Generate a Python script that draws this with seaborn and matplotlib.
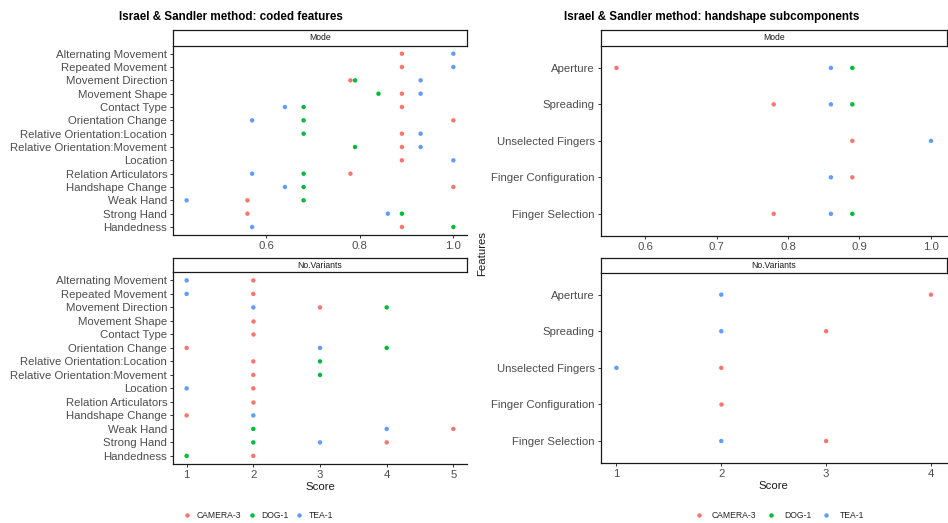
import numpy as np
import pandas as pd
import matplotlib
matplotlib.use("Agg")
import matplotlib.pyplot as plt
from matplotlib.lines import Line2D
from matplotlib.ticker import MultipleLocator, FormatStrFormatter
import seaborn as sns

# ---------------------------------------------------------------- data
signs = ["CAMERA-3", "DOG-1", "TEA-1"]
sign_colors = ["#F8766D", "#00BA38", "#619CFF"]

coded_features = [
    "Alternating Movement", "Repeated Movement", "Movement Direction",
    "Movement Shape", "Contact Type", "Orientation Change",
    "Relative Orientation:Location", "Relative Orientation:Movement",
    "Location", "Relation Articulators", "Handshape Change",
    "Weak Hand", "Strong Hand", "Handedness",
]
nan = np.nan
coded_mode_camera = [0.89, 0.89, 0.78, 0.89, 0.89, 1.00, 0.89, 0.89, 0.89, 0.78, 1.00, 0.56, 0.56, 0.89]
coded_mode_dog = [nan, nan, 0.79, 0.84, 0.68, 0.68, 0.68, 0.79, nan, 0.68, 0.68, 0.68, 0.89, 1.00]
coded_mode_tea = [1.00, 1.00, 0.93, 0.93, 0.64, 0.57, 0.93, 0.93, 1.00, 0.57, 0.64, 0.43, 0.86, 0.57]

coded_var_camera = [2, 2, 3, 2, 2, 1, 2, 2, 2, 2, 1, 5, 4, 2]
coded_var_dog = [nan, nan, 4, nan, nan, 4, 3, 3, nan, nan, nan, 2, 2, 1]
coded_var_tea = [1, 1, 2, nan, nan, 3, nan, nan, 1, nan, 2, 4, 3, nan]

hs_features = ["Aperture", "Spreading", "Unselected Fingers",
               "Finger Configuration", "Finger Selection"]
hs_mode_camera = [0.56, 0.78, 0.89, 0.89, 0.78]
hs_mode_dog = [0.89, 0.89, nan, nan, 0.89]
hs_mode_tea = [0.86, 0.86, 1.00, 0.86, 0.86]

hs_var_camera = [4, 3, 2, 2, 3]
hs_var_dog = [nan, nan, nan, nan, nan]
hs_var_tea = [2, 2, 1, nan, 2]

# ---------------------------------------------------------------- style
sns.set_theme(style="white")
plt.rcParams["font.family"] = ["Liberation Sans", "DejaVu Sans"]

W, H = 948, 523
fig = plt.figure(figsize=(W / 100, H / 100), dpi=100)
fig.patch.set_facecolor("white")
palette = dict(zip(signs, sign_colors))
TICK_TXT = "#4D4D4D"
LINE = "#1A1A1A"


def rect(x0, y0, x1, y1):
    return [x0 / W, 1 - y1 / H, (x1 - x0) / W, (y1 - y0) / H]


def long_frame(features, series):
    parts = []
    for sign, vals in zip(signs, series):
        parts.append(pd.DataFrame({"Features": features, "Score": vals, "Sign": sign}))
    return pd.concat(parts, ignore_index=True).dropna()


def strip(box, label):
    sax = fig.add_axes(rect(*box), zorder=5)
    sax.set_xticks([])
    sax.set_yticks([])
    sax.set_facecolor("white")
    for sp in sax.spines.values():
        sp.set_visible(True)
        sp.set_color(LINE)
        sp.set_linewidth(0.9)
    sax.text(0.5, 0.5, label, ha="center", va="center", fontsize=6.2,
             color="#1A1A1A", transform=sax.transAxes)


def panel(box, features, series, step, fmt, xlabel):
    ax = fig.add_axes(rect(*box), zorder=1)
    df = long_frame(features, series)
    sns.stripplot(data=df, x="Score", y="Features", hue="Sign", order=features,
                  hue_order=signs, palette=palette, jitter=False, dodge=False,
                  size=3.2, linewidth=0, legend=False, ax=ax)
    lo, hi = df["Score"].min(), df["Score"].max()
    pad = 0.05 * (hi - lo)
    ax.set_xlim(lo - pad, hi + pad)
    ax.set_ylim(len(features) - 1 + 0.6, -0.6)
    ax.xaxis.set_major_locator(MultipleLocator(step))
    ax.xaxis.set_major_formatter(FormatStrFormatter(fmt))
    for side in ("top", "right"):
        ax.spines[side].set_visible(False)
    for side in ("left", "bottom"):
        ax.spines[side].set_color(LINE)
        ax.spines[side].set_linewidth(0.9)
    ax.tick_params(axis="both", which="major", length=2.4, width=0.7,
                   color="#333333", labelsize=8.2, labelcolor=TICK_TXT, pad=2)
    ax.tick_params(bottom=True, left=True)
    ax.set_ylabel("")
    if xlabel:
        ax.set_xlabel(xlabel, fontsize=8.2, color="#1A1A1A", labelpad=1.5)
    else:
        ax.set_xlabel("")
    ax.grid(False)
    return ax


# left block: coded features
LX0, LX1 = 173.3, 466.7
panel((LX0, 45.7, LX1, 235), coded_features,
      [coded_mode_camera, coded_mode_dog, coded_mode_tea], 0.2, "%.1f", None)
panel((LX0, 272.3, LX1, 464), coded_features,
      [coded_var_camera, coded_var_dog, coded_var_tea], 1, "%d", "Score")
strip((LX0, 30, LX1, 45.7), "Mode")
strip((LX0, 257.7, LX1, 272.3), "No.Variants")

# right block: handshape subcomponents
RX0, RX1 = 600.7, 946.7
panel((RX0, 46, RX1, 235.7), hs_features,
      [hs_mode_camera, hs_mode_dog, hs_mode_tea], 0.1, "%.1f", None)
panel((RX0, 272.7, RX1, 463), hs_features,
      [hs_var_camera, hs_var_dog, hs_var_tea], 1, "%d", "Score")
strip((RX0, 30, RX1, 46), "Mode")
strip((RX0, 257.7, RX1, 272.7), "No.Variants")

# titles and shared axis label
fig.text(231 / W, 1 - 17 / H, "Israel & Sandler method: coded features",
         ha="center", va="center", fontsize=8.4, fontweight="bold", color="black")
fig.text(712 / W, 1 - 17 / H, "Israel & Sandler method: handshape subcomponents",
         ha="center", va="center", fontsize=8.4, fontweight="bold", color="black")
fig.text(482 / W, 1 - 254 / H, "Features", rotation=90, ha="center",
         va="center", fontsize=8.2, color="#1A1A1A")

# legends
handles = [Line2D([0], [0], marker="o", linestyle="", markersize=3.2,
                  markerfacecolor=c, markeredgewidth=0, label=s)
           for s, c in zip(signs, sign_colors)]
fig.legend(handles=handles, loc="center", bbox_to_anchor=(258.5 / W, 1 - 516 / H),
           ncol=3, frameon=False, fontsize=6.2, handlelength=0.8,
           handletextpad=0.75, columnspacing=0.8, borderpad=0)
fig.legend(handles=handles, loc="center", bbox_to_anchor=(779.5 / W, 1 - 516 / H),
           ncol=3, frameon=False, fontsize=6.2, handlelength=0.8,
           handletextpad=1.15, columnspacing=1.3, borderpad=0)

fig.savefig("out.png", dpi=100, facecolor="white")
